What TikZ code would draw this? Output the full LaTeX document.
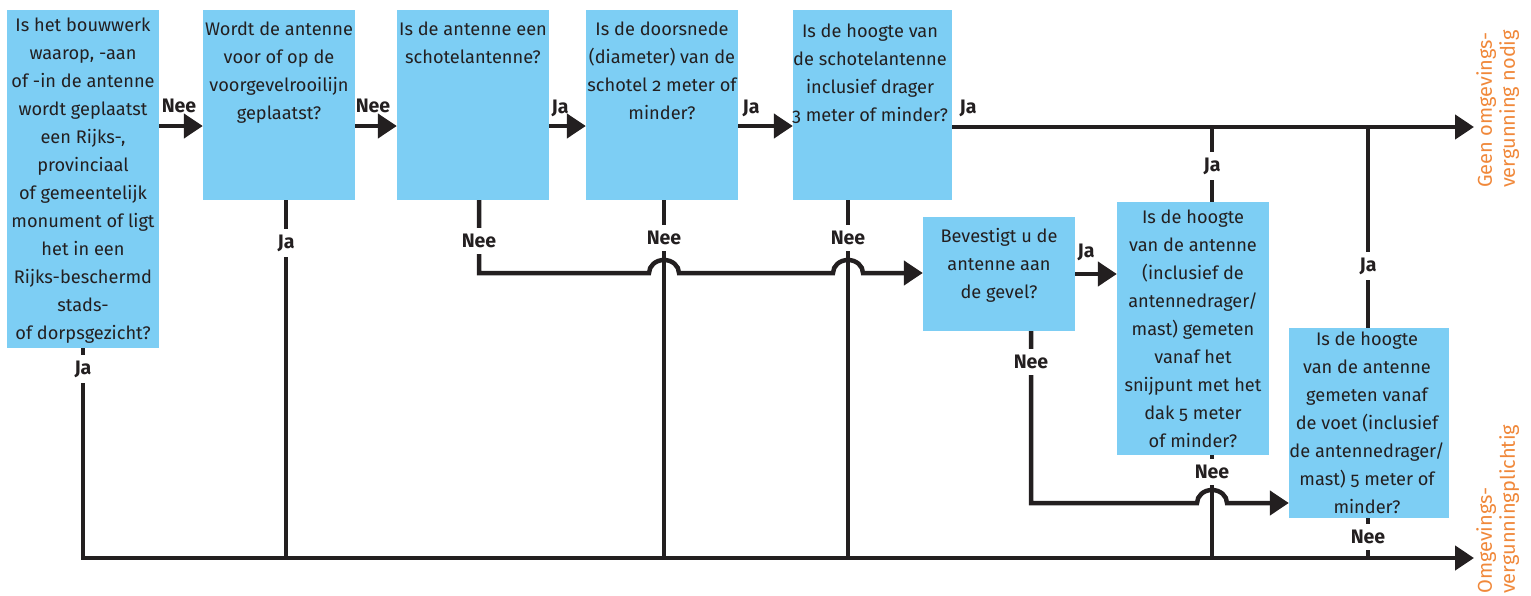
\documentclass[tikz,border=0pt]{standalone}
\usepackage{fontspec}
\setmainfont{Fira Sans}[Numbers=OldStyle]
\usetikzlibrary{arrows.meta,calc}
\definecolor{boxblue}{HTML}{7DCEF4}
\definecolor{ink}{HTML}{231F20}
\definecolor{outorange}{HTML}{F0883A}
\begin{document}
\begin{tikzpicture}[x=1pt,y=-1pt,
  box/.style={fill=boxblue, draw=none, inner sep=0pt},
  qtext/.style={anchor=north, align=center, inner sep=0pt, text=ink, font=\fontsize{18.2}{28}\selectfont},
  lbl/.style={font=\fontsize{19.5}{21}\selectfont\bfseries, text=ink, inner sep=0pt},
  gaplbl/.style={lbl, fill=white, inner ysep=6pt, inner xsep=1pt},
  con/.style={draw=ink, line width=4.5pt},
  arr/.style={con, -{Triangle[length=19pt,width=24pt]}},
  hop/.style={start angle=180, end angle=0, x radius=15pt, y radius=13pt},
  outtext/.style={rotate=90, anchor=north west, align=left, inner sep=0pt, text=outorange, font=\fontsize{20}{23}\selectfont}]
\useasboundingbox (0,0) rectangle (1531,595);

% boxes
\node[box, minimum width=152pt, minimum height=338pt] (b1) at (83,179) {};
\node[box, minimum width=152pt, minimum height=190pt] (b2) at (279,105) {};
\node[box, minimum width=152pt, minimum height=190pt] (b3) at (473,105) {};
\node[box, minimum width=152pt, minimum height=190pt] (b4) at (662,105) {};
\node[box, minimum width=159pt, minimum height=190pt] (b5) at (872.5,105) {};
\node[box, minimum width=152pt, minimum height=114pt] (b6) at (999,274) {};
\node[box, minimum width=152pt, minimum height=253pt] (b7) at (1193,328.5) {};
\node[box, minimum width=160pt, minimum height=190pt] (b8) at (1369,423) {};

% box texts
\node[qtext] (t1) at (83,16) {\rule{0pt}{15pt}Is het bouwwerk\\waarop, -aan\\of -in de antenne\\wordt geplaatst\\een Rijks-,\\provinciaal\\of gemeentelijk\\monument of ligt\\het in een\\Rijks-beschermd\\stads-\\of dorpsgezicht?};
\node[qtext] (t2) at (279,20) {\rule{0pt}{15pt}Wordt de antenne\\voor of op de\\voorgevelrooilijn\\geplaatst?};
\node[qtext] (t3) at (473,20) {\rule{0pt}{15pt}Is de antenne een\\schotelantenne?};
\node[qtext] (t4) at (662,20) {\rule{0pt}{15pt}Is de doorsnede\\(diameter) van de\\schotel 2 meter of\\minder?};
\node[qtext] (t5) at (870,22) {\rule{0pt}{15pt}Is de hoogte van\\de schotelantenne\\inclusief drager\\3 meter of minder?};
\node[qtext] (t6) at (999,227) {\rule{0pt}{15pt}Bevestigt u de\\antenne aan\\de gevel?};
\node[qtext] (t7) at (1193,208) {\rule{0pt}{15pt}Is de hoogte\\van de antenne\\(inclusief de\\antennedrager/\\mast) gemeten\\vanaf het\\snijpunt met het\\dak 5 meter\\of minder?};
\node[qtext] (t8) at (1367,330) {\rule{0pt}{15pt}Is de hoogte\\van de antenne\\gemeten vanaf\\de voet (inclusief\\de antennedrager/\\mast) 5 meter of\\minder?};

% helper coordinates
\coordinate (r) at (0,126);
\coordinate (geen) at (1474,127);
\coordinate (omg) at (1474,558);
\coordinate (c2) at (286,0);
\coordinate (c3) at (479,273);
\coordinate (c4) at (664,273);
\coordinate (c5) at (848,273);
\coordinate (c6) at (1031,503);
\coordinate (c7) at (1212,503);
\coordinate (c8) at (1368,0);
\coordinate (r6) at (0,274);

% vertical lines
\draw[con] (b2.south -| c2) -- (c2 |- omg);
\draw[con] (b4.south -| c4) -- (c4 |- omg);
\draw[con] (b5.south -| c5) -- (c5 |- omg);
\draw[con] (b7.north -| c7) -- (c7 |- geen);
\draw[con] (b7.south -| c7) -- (c7 |- omg);
\draw[con] (b8.north -| c8) -- (c8 |- geen);
\draw[con] (b8.south -| c8) -- (c8 |- omg);

% main arrows
\draw[arr] (b1.east |- r) -- (b2.west |- r);
\draw[arr] (b2.east |- r) -- (b3.west |- r);
\draw[arr] (b3.east |- r) -- (b4.west |- r);
\draw[arr] (b4.east |- r) -- (b5.west |- r);
\draw[arr] (b5.east |- geen) -- (geen);
\draw[arr] (b1.south) -- (b1.south |- omg) -- (omg);
\draw[arr] (b6.east |- r6) -- (b7.west |- r6);

% lines with hops
\draw[arr] (b3.south -| c3) -- (c3) -- ($(c4)+(-15,0)$) arc[hop]
  -- ($(c5)+(-15,0)$) arc[hop]
  -- (b6.west |- c3);
\draw[arr] (b6.south -| c6) -- (c6) -- ($(c7)+(-15,0)$) arc[hop]
  -- (b8.west |- c6);

% labels above arrows
\node[lbl, anchor=base] (l12) at (179,112) {Nee};
\node[lbl, anchor=base] (l23) at (373,112) {Nee};
\node[lbl, anchor=base] (l34) at (560,113) {Ja};
\node[lbl, anchor=base] (l45) at (751,113) {Ja};
\node[lbl, anchor=base] (l5o) at (968,113) {Ja};
\node[lbl, anchor=base] (l67) at (1086,257) {Ja};

% labels on vertical lines
\node[gaplbl] (g1) at (83,369) {Ja};
\node[gaplbl] (g2) at (286,243) {Ja};
\node[gaplbl] (g3) at (479,241) {Nee};
\node[gaplbl] (g4) at (664,238) {Nee};
\node[gaplbl] (g5) at (848,238) {Nee};
\node[gaplbl] (g7u) at (1212,166) {Ja};
\node[gaplbl] (g8u) at (1368,266) {Ja};
\node[gaplbl] (g6) at (1031,362) {Nee};
\node[gaplbl] (g7d) at (1212,472) {Nee};
\node[gaplbl] (g8d) at (1368,537) {Nee};

% outcomes
\node[outtext] (geentxt) at (1476,188) {Geen omgevings-\\vergunning nodig};
\node[outtext] (omgtxt) at (1476,594) {Omgevings-\\vergunningplichtig};
\end{tikzpicture}
\end{document}
